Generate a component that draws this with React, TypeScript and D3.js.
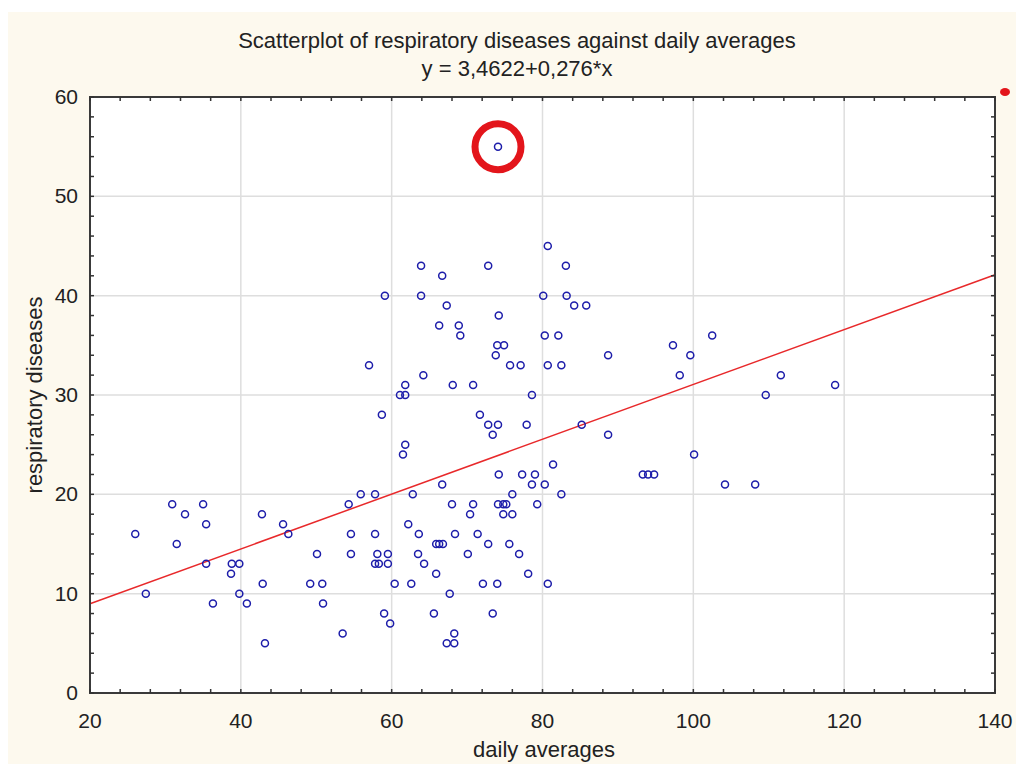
import React from 'react';
import * as d3 from 'd3';

// daily averages (x) and respiratory diseases (y)
const dailyAverages = [
  26.0, 27.4, 30.9, 31.5, 32.6, 35.0, 35.4, 35.4, 36.3, 38.7, 38.8, 39.8, 39.8, 40.8,
  42.8, 42.9, 43.2, 45.6, 46.3, 49.2, 50.1, 50.8, 50.9, 53.5, 54.3, 54.6, 54.6, 55.9,
  57.8, 57.8, 58.1, 57.8, 58.3, 59.5, 59.5, 57.0, 58.7, 59.1, 60.4, 59.0, 59.8, 61.1,
  61.8, 61.5, 61.8, 61.8, 62.2, 62.6, 62.8, 63.5, 63.6, 63.9, 63.9, 64.2, 64.3, 65.6,
  65.9, 65.9, 66.3, 66.8, 66.3, 66.7, 66.7, 67.3, 67.3, 67.7, 68.0, 68.1, 68.3, 68.3,
  68.4, 68.9, 69.1, 70.1, 70.4, 70.8, 70.8, 71.4, 71.7, 72.1, 72.8, 72.8, 72.8, 73.4,
  73.4, 73.8, 74.0, 74.0, 74.1, 74.1, 74.8, 75.2, 74.2, 74.2, 74.8, 74.9, 75.6, 75.7,
  76.0, 76.0, 76.9, 77.1, 77.3, 77.9, 78.1, 78.6, 78.6, 79.0, 79.3, 80.1, 80.3, 80.3,
  80.7, 80.7, 80.7, 81.4, 82.1, 82.5, 82.5, 83.1, 83.2, 84.2, 85.8, 85.2, 88.7, 88.7,
  93.3, 94.0, 94.8, 97.3, 98.2, 99.6, 100.1, 102.5, 104.2, 108.2, 109.6, 111.6, 118.8,
  74.1,
];
const respiratoryDiseases = [
  16, 10, 19, 15, 18, 19, 17, 13, 9, 12, 13, 13, 10, 9,
  18, 11, 5, 17, 16, 11, 14, 11, 9, 6, 19, 16, 14, 20,
  20, 16, 14, 13, 13, 13, 14, 33, 28, 40, 11, 8, 7, 30,
  30, 24, 25, 31, 17, 11, 20, 14, 16, 43, 40, 32, 13, 8,
  12, 15, 15, 15, 37, 42, 21, 39, 5, 10, 19, 31, 6, 5,
  16, 37, 36, 14, 18, 31, 19, 16, 28, 11, 43, 27, 15, 26,
  8, 34, 35, 11, 27, 19, 19, 19, 38, 22, 18, 35, 15, 33,
  20, 18, 14, 33, 22, 27, 12, 30, 21, 22, 19, 40, 36, 21,
  45, 33, 11, 23, 36, 33, 20, 43, 40, 39, 39, 27, 34, 26,
  22, 22, 22, 35, 32, 34, 24, 36, 21, 21, 30, 32, 31,
  55,
];
// the circled outlier
const outlier = { x: 74.1, y: 55 };

const intercept = 3.4622;
const slope = 0.276;

const xTicks = [20, 40, 60, 80, 100, 120, 140];
const yTicks = [0, 10, 20, 30, 40, 50, 60];

const W = 1016, H = 764;
const left = 90, right = 995, top = 97, bottom = 693;
const font = 'Liberation Sans, Arial, sans-serif';

export default function App() {
  const x = d3.scaleLinear().domain([20, 140]).range([left, right]);
  const y = d3.scaleLinear().domain([0, 60]).range([bottom, top]);

  const xMinor = d3.range(20, 140.01, 4);
  const yMinor = d3.range(0, 60.01, 2);

  const fitLine = d3.line<number>()
    .x(d => x(d))
    .y(d => y(intercept + slope * d));

  const tl = 4;

  return (
    <svg width={W} height={H} style={{ position: 'absolute', left: 0, top: 0 }}>
      <rect x={0} y={0} width={W} height={H} fill="#ffffff" />
      <rect x={8} y={12} width={W - 8} height={H - 12} fill="#fdf9ee" />
      <rect x={left} y={top} width={right - left} height={bottom - top} fill="#ffffff" />

      {/* grid */}
      {xTicks.slice(1, -1).map(t => (
        <line key={'gx' + t} x1={x(t)} x2={x(t)} y1={top} y2={bottom} stroke="#dedede" strokeWidth={1.5} />
      ))}
      {yTicks.slice(1, -1).map(t => (
        <line key={'gy' + t} x1={left} x2={right} y1={y(t)} y2={y(t)} stroke="#dedede" strokeWidth={1.5} />
      ))}

      {/* regression line */}
      <path d={fitLine([20, 140]) || ''} fill="none" stroke="#e8292b" strokeWidth={1.5} />

      {/* points */}
      {dailyAverages.map((d, i) => (
        <circle key={i} cx={x(d)} cy={y(respiratoryDiseases[i])} r={3.5}
          fill="none" stroke="#1d1daa" strokeWidth={1.5} />
      ))}

      {/* frame + ticks */}
      <rect x={left} y={top} width={right - left} height={bottom - top} fill="none" stroke="#3a3a3a" strokeWidth={2} />
      {xMinor.map(t => (
        <g key={'tx' + t} stroke="#333" strokeWidth={1.5}>
          <line x1={x(t)} x2={x(t)} y1={bottom} y2={bottom - tl} />
          <line x1={x(t)} x2={x(t)} y1={top} y2={top + tl} />
        </g>
      ))}
      {yMinor.map(t => (
        <g key={'ty' + t} stroke="#333" strokeWidth={1.5}>
          <line x1={left} x2={left + tl} y1={y(t)} y2={y(t)} />
          <line x1={right} x2={right - tl} y1={y(t)} y2={y(t)} />
        </g>
      ))}

      {/* tick labels */}
      {xTicks.map(t => (
        <text key={'lx' + t} x={x(t)} y={728} textAnchor="middle" fontFamily={font} fontSize={21} fill="#222">{t}</text>
      ))}
      {yTicks.map(t => (
        <text key={'ly' + t} x={78} y={y(t) + 7} textAnchor="end" fontFamily={font} fontSize={21} fill="#222">{t}</text>
      ))}

      {/* titles */}
      <text x={517} y={48} textAnchor="middle" fontFamily={font} fontSize={22} fill="#222">
        Scatterplot of respiratory diseases against daily averages
      </text>
      <text x={517} y={76} textAnchor="middle" fontFamily={font} fontSize={22} fill="#222">
        y = 3,4622+0,276*x
      </text>
      <text x={544} y={757} textAnchor="middle" fontFamily={font} fontSize={22} fill="#222">daily averages</text>
      <text transform={`translate(42,${(top + bottom) / 2}) rotate(-90)`} textAnchor="middle"
        fontFamily={font} fontSize={22} fill="#222">respiratory diseases</text>

      {/* highlight of the outlier */}
      <circle cx={x(outlier.x)} cy={y(outlier.y)} r={23} fill="none" stroke="#e3151b" strokeWidth={7} />
      <ellipse cx={1005} cy={92} rx={5} ry={4} fill="#e3151b" />
    </svg>
  );
}
